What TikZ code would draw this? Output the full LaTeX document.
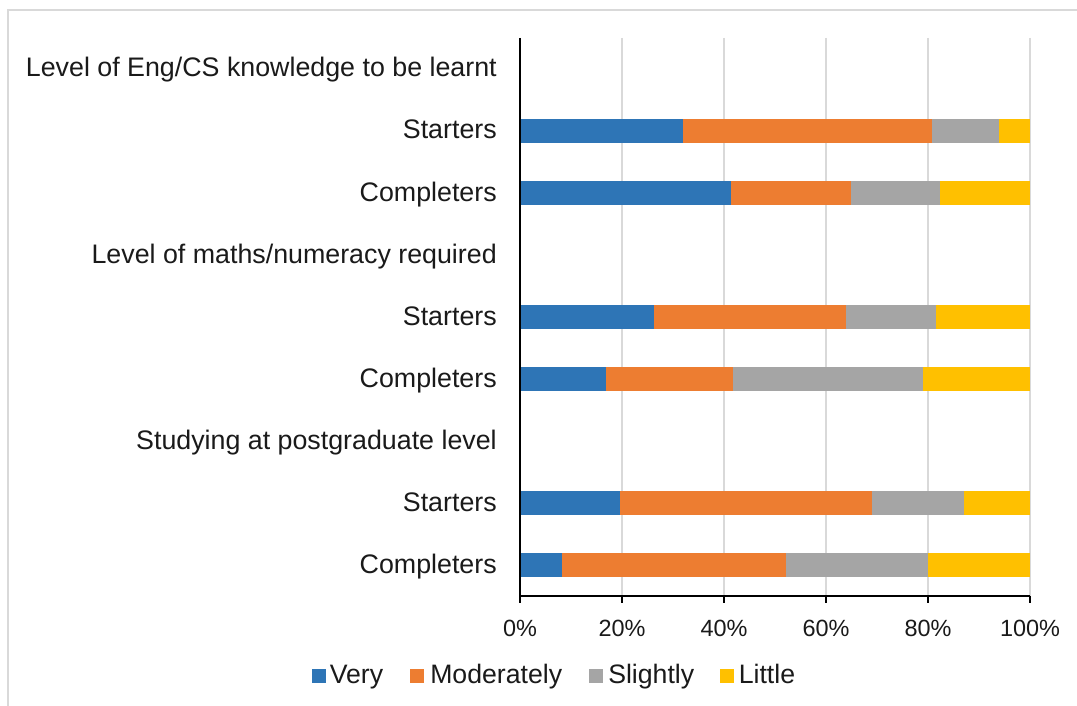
\documentclass[tikz,border=0pt]{standalone}
\usepackage{fontspec}
\setmainfont{Liberation Sans}
\definecolor{cVery}{HTML}{2E75B6}
\definecolor{cMod}{HTML}{ED7D31}
\definecolor{cSli}{HTML}{A5A5A5}
\definecolor{cLit}{HTML}{FFC000}
\definecolor{cGrid}{HTML}{D9D9D9}
\definecolor{cText}{HTML}{1A1A1A}
\begin{document}
\begin{tikzpicture}[x=0.75pt,y=-0.75pt,
  frame/.style={draw=cGrid,line width=1.5pt},
  gridline/.style={draw=cGrid,line width=1.5pt},
  axisline/.style={draw=black,line width=1.2pt},
  catlabel/.style={anchor=base east,inner sep=0pt,text=cText,font=\fontsize{20.1}{24}\selectfont},
  ticklabel/.style={anchor=base,inner sep=0pt,text=cText,font=\fontsize{17.6}{21}\selectfont},
  legtext/.style={anchor=base west,inner sep=0pt,text=cText,font=\fontsize{20}{24}\selectfont},
  legkey/.style={minimum width=10.5pt,minimum height=10.5pt,inner sep=0pt,anchor=center}]
\useasboundingbox (0,0) rectangle (1077,706);
\fill[white] (0,0) rectangle (1077,706);
\draw[frame] (8,706) -- (8,10) -- (1077,10);
% gridlines
\foreach \p in {20,40,60,80,100}
  \draw[gridline] (520+5.1*\p,38) -- (520+5.1*\p,596);
% bars
\foreach \y/\a/\b/\c in {131/31.9/80.7/94.0, 193/41.4/64.9/82.3, 317/26.3/63.9/81.6, 379/16.9/41.7/79.1, 503/19.6/69.0/87.1, 565/8.2/52.2/79.9} {
  \fill[cVery] (520,\y-12) rectangle (520+5.1*\a,\y+12);
  \fill[cMod] (520+5.1*\a,\y-12) rectangle (520+5.1*\b,\y+12);
  \fill[cSli] (520+5.1*\b,\y-12) rectangle (520+5.1*\c,\y+12);
  \fill[cLit] (520+5.1*\c,\y-12) rectangle (1030,\y+12);
}
% axes
\draw[axisline] (520,38) -- (520,596) -- (1030,596);
\foreach \p in {0,20,40,60,80,100}
  \draw[axisline] (520+5.1*\p,596) -- (520+5.1*\p,603);
% tick labels
\node[ticklabel] (t0) at (520,636) {0\%};
\node[ticklabel] (t20) at (622,636) {20\%};
\node[ticklabel] (t40) at (724,636) {40\%};
\node[ticklabel] (t60) at (826,636) {60\%};
\node[ticklabel] (t80) at (928,636) {80\%};
\node[ticklabel] (t100) at (1030,636) {100\%};
% category labels
\node[catlabel] (c1) at (497,77) {Level of Eng/CS knowledge to be learnt};
\node[catlabel] (c2) at (497,139) {Starters};
\node[catlabel] (c3) at (497,201) {Completers};
\node[catlabel] (c4) at (497,263) {Level of maths/numeracy required};
\node[catlabel] (c5) at (497,325) {Starters};
\node[catlabel] (c6) at (497,387) {Completers};
\node[catlabel] (c7) at (497,449) {Studying at postgraduate level};
\node[catlabel] (c8) at (497,511) {Starters};
\node[catlabel] (c9) at (497,573) {Completers};
% legend
\node[legkey,fill=cVery] (k1) at (318.5,675.5) {};
\node[legtext] (l1) at (329.5,683) {Very};
\node[legkey,fill=cMod] (k2) at (417,675.5) {};
\node[legtext] (l2) at (430,683) {Moderately};
\node[legkey,fill=cSli] (k3) at (595.5,675.5) {};
\node[legtext] (l3) at (608,683) {Slightly};
\node[legkey,fill=cLit] (k4) at (727,675.5) {};
\node[legtext] (l4) at (738.5,683) {Little};
\end{tikzpicture}
\end{document}
